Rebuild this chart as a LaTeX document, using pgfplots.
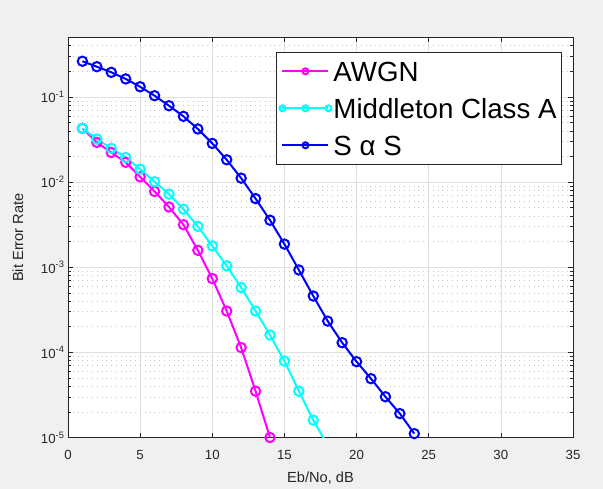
\documentclass[border=0pt]{standalone}
\usepackage{fontspec}
\setmainfont{Liberation Sans}
\usepackage{pgfplots}
\pgfplotsset{compat=1.18}
\usetikzlibrary{backgrounds,calc}
\definecolor{figbg}{HTML}{F0F0F0}
\definecolor{axgray}{HTML}{262626}
\definecolor{majgrid}{HTML}{DFDFDF}
\definecolor{mingrid}{HTML}{C4C4C4}
\definecolor{awgn}{HTML}{FF00FF}
\definecolor{midd}{HTML}{00FFFF}
\definecolor{sas}{HTML}{0000FF}
\begin{document}
\begin{tikzpicture}
\begin{axis}[
    name=ax,
    scale only axis,
    width=505bp, height=400bp,
    ymode=log,
    xmin=0, xmax=35, ymin=1e-5, ymax=0.5,
    xtick={0,5,...,35},
    xticklabels={0,5,10,15,20,25,30,35},
    ytick={1e-5,1e-4,1e-3,1e-2,1e-1},
    yticklabels={10\textsuperscript{-5},10\textsuperscript{-4},10\textsuperscript{-3},10\textsuperscript{-2},10\textsuperscript{-1}},
    minor ytick={2e-5,3e-5,4e-5,5e-5,6e-5,7e-5,8e-5,9e-5,
                 2e-4,3e-4,4e-4,5e-4,6e-4,7e-4,8e-4,9e-4,
                 2e-3,3e-3,4e-3,5e-3,6e-3,7e-3,8e-3,9e-3,
                 2e-2,3e-2,4e-2,5e-2,6e-2,7e-2,8e-2,9e-2,
                 0.2,0.3,0.4},
    xmajorgrids, ymajorgrids, yminorgrids,
    major grid style={majgrid, line width=0.6bp},
    minor grid style={mingrid, dash pattern=on 0.8bp off 4bp, line width=0.7bp},
    tick align=inside,
    major tick length=5bp, minor tick length=3bp,
    every tick/.style={axgray, line width=0.6bp},
    axis line style={axgray, line width=0.8bp},
    axis background/.style={fill=white},
    ticklabel style={font=\fontsize{13.3}{15}\selectfont, text=axgray},
    xticklabel style={yshift=-9bp},
    every axis x label/.style={at={(axis description cs:0.5,-0.101)}, anchor=center},
    every axis y label/.style={at={(axis description cs:-0.099,0.5)}, anchor=center, rotate=90},
    label style={font=\fontsize{14.7}{17}\selectfont, text=axgray},
    xlabel={Eb/No, dB},
    ylabel={Bit Error Rate},
    legend cell align=left,
    legend style={at={(rel axis cs:0.412,0.964)}, anchor=north west,
        draw=axgray, line width=0.8bp, fill=white,
        font=\fontsize{27.8}{31}\selectfont,
        inner xsep=3bp, inner ysep=4bp, row sep=7bp,
        nodes={inner sep=2bp, text height=23bp, text depth=3bp}},
    legend image code/.code={%
        \draw[mark repeat=2, mark phase=2, mark size=3bp, line width=2bp]
        plot coordinates {(0bp,0bp) (23bp,0bp) (46bp,0bp)};},
]
\addplot[awgn, line width=2bp, mark=o, mark size=4.7bp, mark options={line width=2bp}] coordinates {
  (1,0.0428) (2,0.0293) (3,0.0223) (4,0.0171) (5,0.01154) (6,0.00778) (7,0.0051)
  (8,0.00316) (9,0.00158) (10,7.36e-4) (11,3.06e-4) (12,1.14e-4) (13,3.5e-5) (14,1.0e-5)};
\addlegendentry{AWGN}
\addplot[midd, line width=2bp, mark=o, mark size=4.7bp, mark options={line width=2bp},
         mark indices={1,...,17}] coordinates {
  (1,0.0428) (2,0.0321) (3,0.0249) (4,0.0195) (5,0.0142) (6,0.0101) (7,0.00723)
  (8,0.00481) (9,0.00302) (10,0.00178) (11,0.00104) (12,5.77e-4) (13,3.06e-4)
  (14,1.60e-4) (15,7.9e-5) (16,3.5e-5) (17,1.6e-5) (18,8.1e-6)};
\addlegendentry{Middleton Class A}
\addplot[sas, line width=2bp, mark=o, mark size=4.7bp, mark options={line width=2bp}] coordinates {
  (1,0.263) (2,0.227) (3,0.195) (4,0.163) (5,0.132) (6,0.1036) (7,0.079) (8,0.0593)
  (9,0.0421) (10,0.0285) (11,0.0183) (12,0.01114) (13,0.0064) (14,0.00357)
  (15,0.00187) (16,9.29e-4) (17,4.59e-4) (18,2.33e-4) (19,1.30e-4) (20,7.78e-5)
  (21,4.91e-5) (22,3.01e-5) (23,1.91e-5) (24,1.11e-5)};
\addlegendentry{S α S}
\coordinate (bl) at (rel axis cs:0,0);
\coordinate (tr) at (rel axis cs:1,1);
\end{axis}
\begin{scope}[on background layer]
\fill[figbg] ($(bl)+(-68bp,-51.5bp)$) rectangle ($(tr)+(30bp,37.5bp)$);
\end{scope}
\end{tikzpicture}
\end{document}
